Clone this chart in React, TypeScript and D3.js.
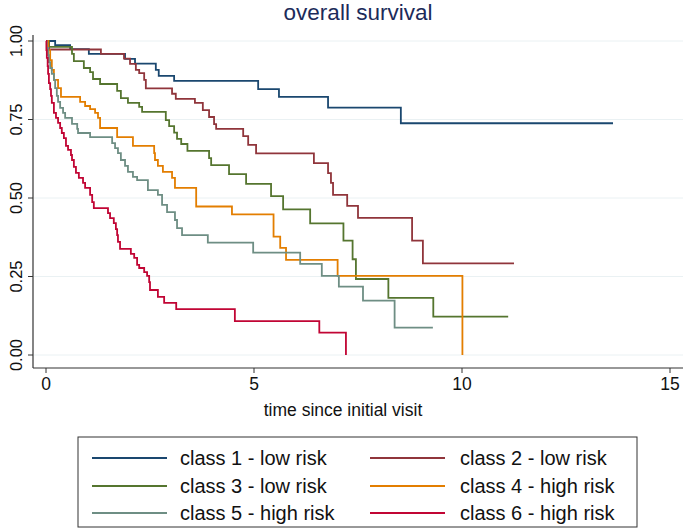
import React from "react";
import * as d3 from "d3";

// Kaplan–Meier step data: [time, survival] after each step; last entry = end of follow-up
const class1: [number, number][] = [
  [0, 1], [0.22, 0.987], [0.58, 0.974], [1.03, 0.959], [1.9, 0.943], [2.14, 0.928],
  [2.64, 0.908], [2.71, 0.889], [3.08, 0.873], [5.1, 0.847], [5.6, 0.822], [6.78, 0.788],
  [8.53, 0.738], [13.63, 0.738],
];
const class2: [number, number][] = [
  [0, 1], [0.07, 0.973], [1.32, 0.959], [1.875, 0.944], [2.02, 0.927], [2.16, 0.908],
  [2.24, 0.898], [2.36, 0.876], [2.4, 0.849], [3.03, 0.832], [3.12, 0.816], [3.58, 0.803],
  [3.77, 0.78], [3.92, 0.758], [4.04, 0.735], [4.09, 0.72], [4.74, 0.697], [4.86, 0.669],
  [5.05, 0.642], [6.44, 0.611], [6.78, 0.579], [6.85, 0.548], [6.9, 0.51], [7.24, 0.475],
  [7.5, 0.437], [8.8, 0.364], [9.06, 0.292], [11.25, 0.292],
];
const class3: [number, number][] = [
  [0, 1], [0.07, 0.981], [0.625, 0.959], [0.67, 0.936], [0.91, 0.914], [1.06, 0.901],
  [1.13, 0.879], [1.3, 0.863], [1.71, 0.841], [1.8, 0.818], [1.97, 0.803], [2.24, 0.79],
  [2.31, 0.774], [2.88, 0.748], [2.96, 0.729], [3.08, 0.708], [3.15, 0.688], [3.25, 0.672],
  [3.4, 0.65], [3.92, 0.627], [3.97, 0.605], [4.4, 0.576], [4.81, 0.545], [5.41, 0.506],
  [5.7, 0.464], [6.35, 0.419], [7.15, 0.364], [7.37, 0.305], [7.45, 0.242], [8.23, 0.182],
  [9.31, 0.122], [11.11, 0.122],
];
const class4: [number, number][] = [
  [0, 1], [0.05, 0.971], [0.1, 0.939], [0.14, 0.908], [0.19, 0.876], [0.29, 0.85],
  [0.36, 0.822], [0.82, 0.806], [0.94, 0.793], [1.06, 0.783], [1.18, 0.771], [1.25, 0.755],
  [1.3, 0.723], [1.71, 0.694], [2.09, 0.666], [2.6, 0.643], [2.62, 0.621], [2.69, 0.602],
  [2.81, 0.583], [3.03, 0.564], [3.1, 0.532], [3.61, 0.473], [4.47, 0.448], [5.47, 0.377],
  [5.63, 0.341], [5.77, 0.303], [7.01, 0.252], [10.01, 0],
];
const class5: [number, number][] = [
  [0, 1], [0.02, 0.978], [0.05, 0.955], [0.07, 0.933], [0.1, 0.914], [0.14, 0.895],
  [0.19, 0.876], [0.22, 0.85], [0.26, 0.825], [0.29, 0.806], [0.34, 0.787], [0.41, 0.771],
  [0.46, 0.755], [0.625, 0.736], [0.75, 0.72], [0.77, 0.707], [1.06, 0.694], [1.59, 0.675],
  [1.66, 0.659], [1.73, 0.643], [1.8, 0.621], [1.9, 0.602], [1.97, 0.583], [2.09, 0.567],
  [2.19, 0.557], [2.45, 0.525], [2.69, 0.51], [2.79, 0.478], [2.91, 0.455], [3.1, 0.43],
  [3.15, 0.404], [3.27, 0.382], [3.89, 0.358], [4.98, 0.326], [6.11, 0.29], [6.63, 0.252],
  [7.04, 0.218], [7.62, 0.173], [8.38, 0.087], [9.3, 0.087],
];
const class6: [number, number][] = [
  [0, 1], [0.01, 0.971], [0.02, 0.946], [0.04, 0.92], [0.05, 0.895], [0.07, 0.866],
  [0.1, 0.847], [0.12, 0.825], [0.14, 0.803], [0.19, 0.771], [0.24, 0.755], [0.29, 0.739],
  [0.34, 0.723], [0.38, 0.707], [0.43, 0.691], [0.48, 0.666], [0.53, 0.653], [0.6, 0.637],
  [0.625, 0.621], [0.67, 0.599], [0.72, 0.58], [0.79, 0.564], [0.89, 0.548], [0.94, 0.532],
  [1.06, 0.51], [1.11, 0.487], [1.15, 0.468], [1.49, 0.452], [1.54, 0.436], [1.63, 0.42],
  [1.68, 0.401], [1.71, 0.382], [1.73, 0.36], [1.78, 0.338], [2.04, 0.322], [2.12, 0.309],
  [2.19, 0.287], [2.24, 0.277], [2.36, 0.264], [2.43, 0.252], [2.48, 0.232], [2.5, 0.207],
  [2.69, 0.185], [2.84, 0.166], [3.13, 0.146], [4.54, 0.108], [6.57, 0.071], [7.21, 0],
];

const seriesNames = [
  "class 1 - low risk", "class 2 - low risk", "class 3 - low risk",
  "class 4 - high risk", "class 5 - high risk", "class 6 - high risk",
];
const seriesColors = ["#1a476f", "#90353b", "#55752f", "#e37e00", "#6e8e84", "#c10534"];
const seriesData = [class1, class2, class3, class4, class5, class6];

const xTicks = [0, 5, 10, 15];
const yTicks = [0, 0.25, 0.5, 0.75, 1];

const titleText = "overall survival";
const xLabel = "time since initial visit";

export default function App() {
  const W = 685, H = 532;
  const x = d3.scaleLinear().domain([0, 15]).range([46, 670]);
  const y = d3.scaleLinear().domain([0, 1]).range([355, 41]);
  const line = d3
    .line<[number, number]>()
    .x((d) => x(d[0]))
    .y((d) => y(d[1]))
    .curve(d3.curveStepAfter);

  const axisLeft = 33, axisBottom = 368, axisRight = 683, axisTop = 35;
  const font = "'Liberation Sans', Arial, Helvetica, sans-serif";

  const legendRows = [458, 486, 513];
  const legendCols = [{ lx: 92, tx: 180 }, { lx: 370, tx: 460 }];

  return (
    <svg
      width={W}
      height={H}
      style={{ position: "absolute", left: 0, top: 0, background: "#fff" }}
      fontFamily={font}
    >
      <rect x={0} y={0} width={W} height={H} fill="#fff" />
      {/* gridlines */}
      {yTicks.map((t) => (
        <line key={"g" + t} x1={axisLeft + 1} x2={axisRight} y1={y(t)} y2={y(t)} stroke="#eaf1f3" strokeWidth={1} />
      ))}
      {/* title */}
      <text x={358} y={20} textAnchor="middle" fontSize={22.5} fill="#1c2b5a">
        {titleText}
      </text>
      {/* axes */}
      <line x1={axisLeft} x2={axisLeft} y1={axisTop} y2={axisBottom} stroke="#333" strokeWidth={1.2} />
      <line x1={axisLeft} x2={axisRight} y1={axisBottom} y2={axisBottom} stroke="#333" strokeWidth={1.2} />
      {yTicks.map((t) => (
        <g key={"yt" + t}>
          <line x1={axisLeft - 5} x2={axisLeft} y1={y(t)} y2={y(t)} stroke="#333" strokeWidth={1} />
          <text
            transform={`translate(22,${y(t)}) rotate(-90)`}
            textAnchor="middle"
            fontSize={16.5}
            fill="#111"
          >
            {d3.format(".2f")(t)}
          </text>
        </g>
      ))}
      {xTicks.map((t) => (
        <g key={"xt" + t}>
          <line x1={x(t)} x2={x(t)} y1={axisBottom} y2={axisBottom + 5} stroke="#333" strokeWidth={1} />
          <text x={x(t)} y={390} textAnchor="middle" fontSize={17.5} fill="#111">
            {t}
          </text>
        </g>
      ))}
      <text x={343} y={416} textAnchor="middle" fontSize={17.5} fill="#111">
        {xLabel}
      </text>
      {/* curves */}
      {seriesData.map((d, i) => (
        <path key={"s" + i} d={line(d) || ""} fill="none" stroke={seriesColors[i]} strokeWidth={1.8} />
      ))}
      {/* legend */}
      <rect x={78} y={437} width={559} height={90} fill="#fff" stroke="#333" strokeWidth={1} />
      {seriesNames.map((name, i) => {
        const col = legendCols[i % 2];
        const ry = legendRows[Math.floor(i / 2)];
        return (
          <g key={"l" + i}>
            <line x1={col.lx} x2={col.lx + 75} y1={ry} y2={ry} stroke={seriesColors[i]} strokeWidth={1.8} />
            <text x={col.tx} y={ry + 7} fontSize={20} fill="#111">
              {name}
            </text>
          </g>
        );
      })}
    </svg>
  );
}
